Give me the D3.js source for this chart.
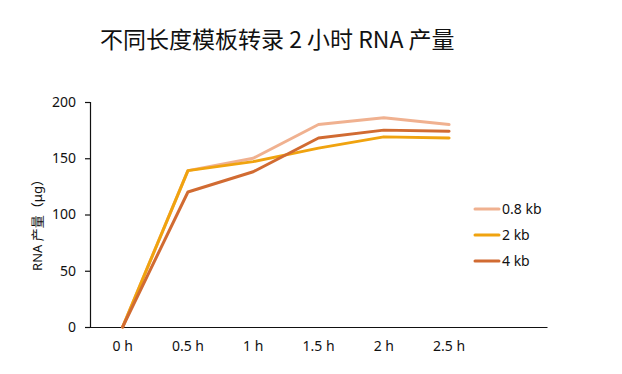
<!DOCTYPE html>
<html>
<head>
<meta charset="utf-8">
<script src="https://cdn.jsdelivr.net/npm/d3@7"></script>
<style>
  body { margin: 0; background: #fff; }
  text { font-family: "Noto Sans", "Noto Sans CJK SC", sans-serif; }
</style>
</head>
<body>
<div id="chart"></div>
<script>
// time points (last slot is left empty on the axis)
const timeLabels = ['0 h', '0.5 h', '1 h', '1.5 h', '2 h', '2.5 h', ''];
const seriesNames = ['0.8 kb', '2 kb', '4 kb'];
const values08kb = [0, 139, 150, 180, 186, 180];
const values2kb = [0, 139, 147, 159, 169, 168];
const values4kb = [0, 120, 138, 168, 175, 174];
const yTicks = [0, 50, 100, 150, 200];
const colours = ['#F0B190', '#F0A30F', '#D16B32'];

const width = 622, height = 374;
const margin = {top: 102, right: 75, bottom: 47, left: 90};
const cWidth = width - margin.left - margin.right;
const cHeight = height - margin.top - margin.bottom;

const series = [values08kb, values2kb, values4kb];

let svg = d3.select('#chart').append('svg')
    .attr('width', width)
    .attr('height', height);

// chart title
svg.append('text')
    .attr('x', 100)
    .attr('y', 48)
    .attr('font-size', '23px')
    .attr('fill', '#111')
    .style('font-family', '"Noto Sans CJK SC", sans-serif')
    .text('不同长度模板转录 2 小时 RNA 产量');

let g = svg.append('g').attr('transform', `translate(${margin.left},${margin.top})`);

let x = d3.scaleBand()
    .domain(timeLabels.map((d, i) => i))
    .range([0, cWidth]);

let y = d3.scaleLinear()
    .domain([0, 200])
    .range([cHeight, 0]);

// y axis
let yAxis = g.append('g')
    .call(d3.axisLeft(y).tickValues(yTicks).tickSize(5).tickPadding(9));
yAxis.selectAll('text').attr('font-size', '14px').attr('fill', '#111');

// x axis
let xAxis = g.append('g')
    .attr('transform', `translate(0,${cHeight})`)
    .call(d3.axisBottom(x).tickSize(0).tickPadding(14).tickFormat(i => timeLabels[i]));
xAxis.selectAll('text').attr('font-size', '14px').attr('fill', '#111');

svg.selectAll('.domain, .tick line').attr('stroke', '#111').attr('stroke-width', 1.2);

// y axis label
svg.append('text')
    .attr('transform', 'translate(42,222) rotate(-90)')
    .attr('text-anchor', 'middle')
    .attr('font-size', '13px')
    .attr('fill', '#111')
    .text('RNA 产量（μg）');

// lines
let line = d3.line()
    .x((d, i) => x(i) + x.bandwidth() / 2)
    .y(d => y(d));

g.selectAll('.series')
    .data(series)
    .enter().append('path')
    .attr('class', 'series')
    .attr('d', line)
    .attr('fill', 'none')
    .attr('stroke', (d, i) => colours[i])
    .attr('stroke-width', 3)
    .attr('stroke-linejoin', 'round')
    .attr('stroke-linecap', 'round');

// legend
let legend = svg.selectAll('.legend')
    .data(seriesNames)
    .enter().append('g')
    .attr('class', 'legend')
    .attr('transform', (d, i) => `translate(475,${209 + i * 26})`);

legend.append('line')
    .attr('x1', 0).attr('x2', 24)
    .attr('stroke', (d, i) => colours[i])
    .attr('stroke-width', 3)
    .attr('stroke-linecap', 'round');

legend.append('text')
    .attr('x', 27)
    .attr('dy', '0.35em')
    .attr('font-size', '14px')
    .attr('fill', '#111')
    .text(d => d);
</script>
</body>
</html>
